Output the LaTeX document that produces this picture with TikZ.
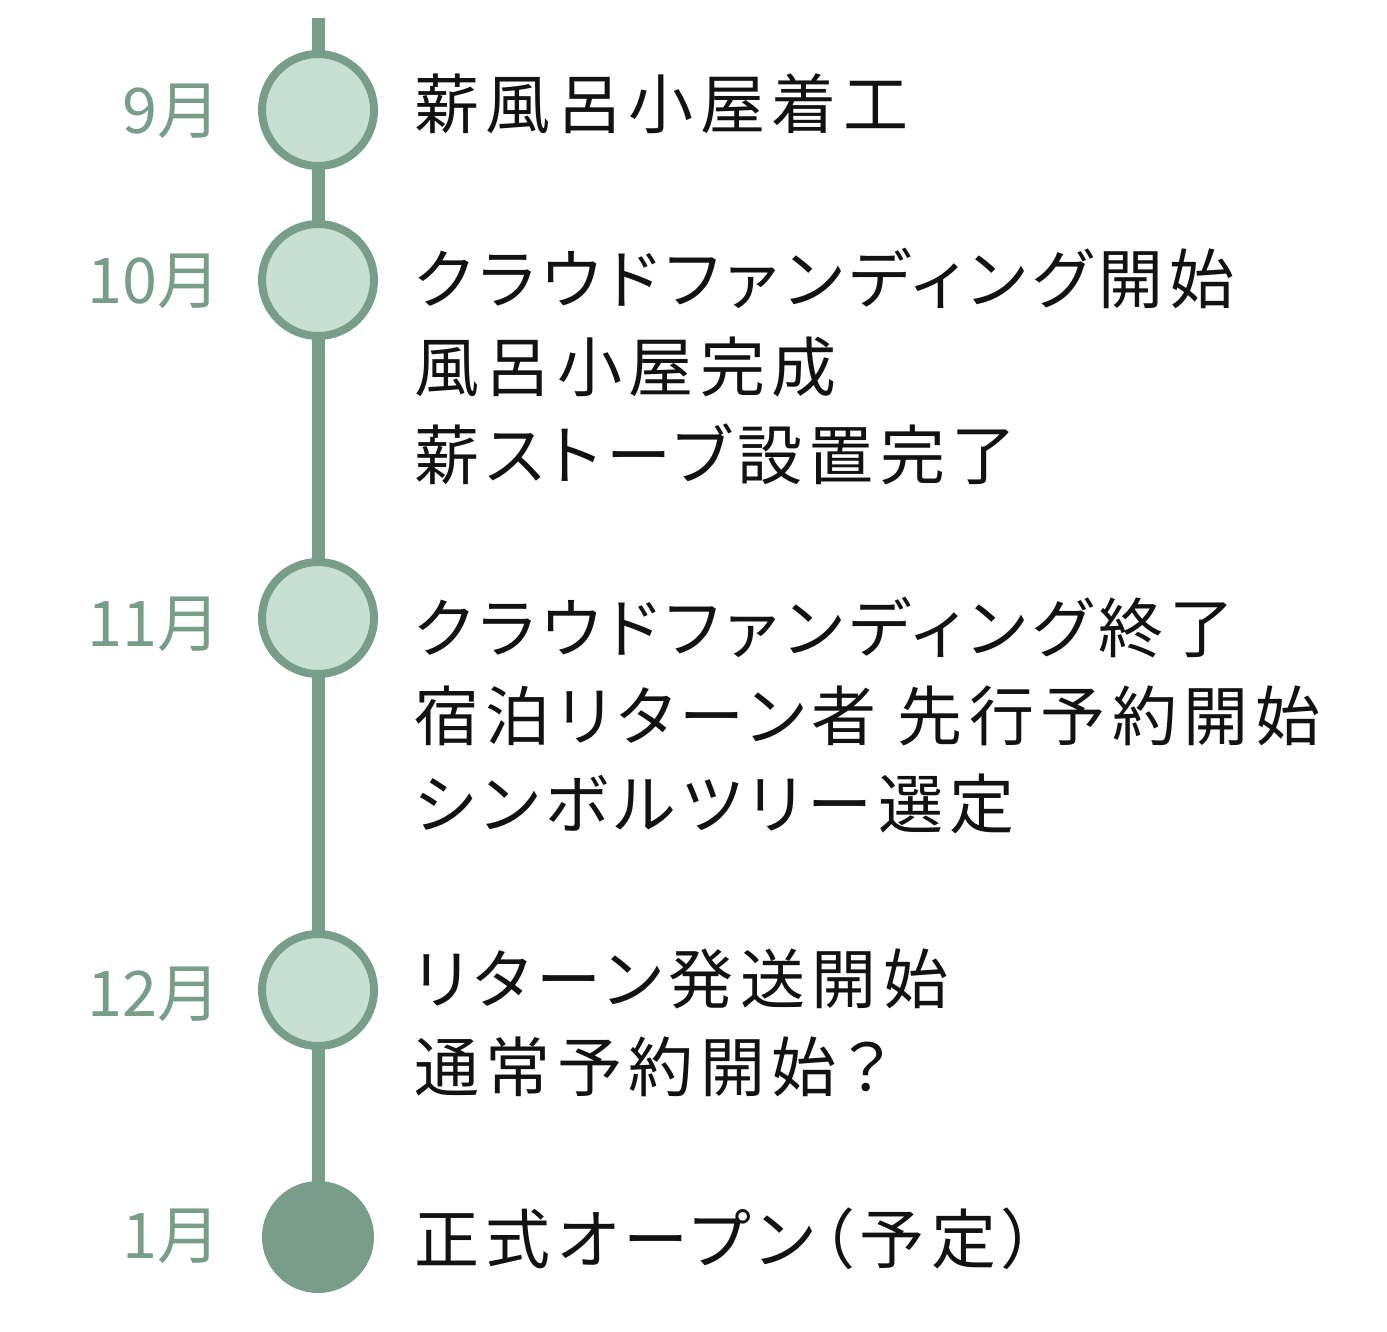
\documentclass[tikz,border=0pt]{standalone}
\usepackage{fontspec}
\newfontfamily\jpfont{Noto Sans CJK JP}[LetterSpace=10, RawFeature=+palt]
\newfontfamily\monthfont{Noto Sans CJK JP}
\usetikzlibrary{positioning}
\definecolor{sage}{HTML}{789E89}
\definecolor{mint}{HTML}{C7E0D3}
\tikzset{spine/.style = {draw=sage, line width=13pt}}
\tikzset{milestone/.style = {draw=sage, fill=mint, circle, line width=8pt, minimum size=112pt, inner sep=0pt}}
\tikzset{finalstone/.style = {fill=sage, circle, minimum size=112pt, inner sep=0pt}}
\tikzset{month/.style = {anchor=east, inner sep=0pt, text=sage, font=\monthfont\fontsize{63}{63}\selectfont}}
\tikzset{event/.style = {anchor=west, inner sep=0pt, align=left, text=black!93, font=\jpfont\fontsize{65}{88}\selectfont}}

\begin{document}
\begin{tikzpicture}[x=1pt, y=-1pt]
  \useasboundingbox (0,0) rectangle (1387,1331);
  \coordinate (top) at (318,18);
  \node [finalstone] (jan) at (318,1237) {};
  \path[spine] (top) -- (jan.center);
  \node [milestone] (sep) at (318,110) {};
  \node [milestone] (oct) at (318,280) {};
  \node [milestone] (nov) at (318,618) {};
  \node [milestone] (dec) at (318,990) {};

  \node [month] (lsep) at (221,111) {9月};
  \node [month] (loct) at (221,281) {10月};
  \node [month] (lnov) at (221,624) {11月};
  \node [month] (ldec) at (221,994) {12月};
  \node [month] (ljan) at (221,1236) {1月};

  \node [event] (esep) at (414,104) {薪風呂小屋着工};
  \node [event] (eoct) at (414,366) {クラウドファンディング開始\\風呂小屋完成\\薪ストーブ設置完了};
  \node [event] (enov) at (414,716) {クラウドファンディング終了\\宿泊リターン者 先行予約開始\\シンボルツリー選定};
  \node [event] (edec) at (414,1023) {リターン発送開始\\通常予約開始？};
  \node [event] (ejan) at (414,1239) {正式オープン（予定）};
\end{tikzpicture}
\end{document}
